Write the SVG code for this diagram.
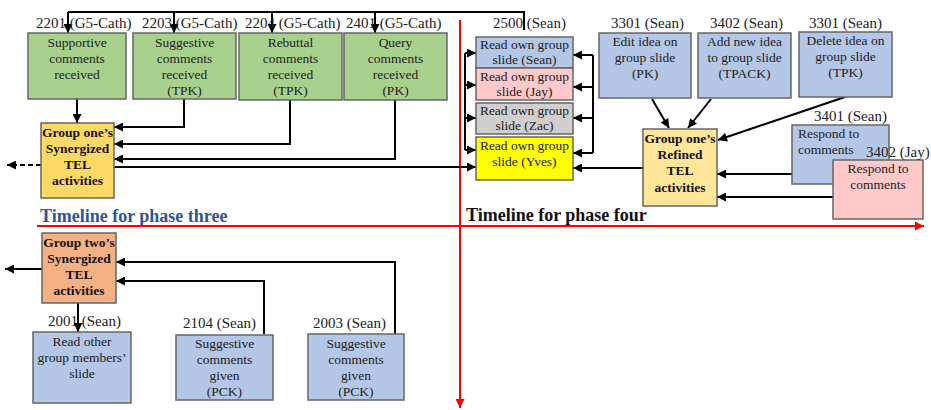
<svg xmlns="http://www.w3.org/2000/svg" width="931" height="410" viewBox="0 0 931 410">
  <style>
    text { font-family: "Liberation Serif", "Times New Roman", serif; fill: #222; }
    .lbl { font-size: 15px; }
    .bx { font-size: 13.5px; text-anchor: middle; }
    .bxl { font-size: 13.5px; }
    .hub { font-size: 13.5px; font-weight: bold; text-anchor: middle; fill: #111; }
    .box { stroke: #666; stroke-width: 1.5; }
    .green { fill: #a9d18e; }
    .blue { fill: #b4c7e7; }
    .pink { fill: #ffc9c9; }
    .grey { fill: #d0cece; }
    .yellow { fill: #ffff00; }
    .gold { fill: #ffd966; }
    .cream { fill: #ffe699; }
    .orange { fill: #f4b183; }
    .conn { fill: none; stroke: #000; stroke-width: 2; }
    .arr { marker-end: url(#ah); }
    .red { fill: none; stroke: #ff0000; stroke-width: 2; marker-end: url(#rah); }
    .tl { font-size: 18px; font-weight: bold; }
  </style>
  <defs>
    <marker id="ah" viewBox="0 0 10 10" refX="10" refY="5" markerWidth="10" markerHeight="9" orient="auto" markerUnits="userSpaceOnUse">
      <path d="M0,0 L10,5 L0,10 z" fill="#000"/>
    </marker>
    <marker id="rah" viewBox="0 0 10 10" refX="10" refY="5" markerWidth="11" markerHeight="9" orient="auto" markerUnits="userSpaceOnUse">
      <path d="M0,0 L10,5 L0,10 z" fill="#ff0000"/>
    </marker>
  </defs>

  <!-- timelines -->
  <g id="timelines">
    <line class="red" x1="460" y1="20" x2="460" y2="408"/>
    <line class="red" x1="37" y1="226" x2="924" y2="226"/>
    <text class="tl" x="40" y="222" style="fill:#2e5597">Timeline for phase three</text>
    <text class="tl" x="466" y="221" style="fill:#111">Timeline for phase four</text>
  </g>

  <!-- connectors -->
  <g id="connectors">
    <!-- distribution line along the top -->
    <path class="conn" d="M524,30 V12 H68"/>
    <line class="conn arr" x1="68" y1="12" x2="68" y2="33"/>
    <line class="conn arr" x1="174" y1="12" x2="174" y2="33"/>
    <line class="conn arr" x1="272" y1="12" x2="272" y2="33"/>
    <line class="conn arr" x1="375" y1="12" x2="375" y2="33"/>

    <!-- comments received into group one's synergized activities -->
    <line class="conn arr" x1="77" y1="99" x2="77" y2="123"/>
    <path class="conn arr" d="M184,99 V127 H114"/>
    <path class="conn arr" d="M290,100 V144 H114"/>
    <path class="conn arr" d="M395,100 V159 H114"/>
    <line class="conn" x1="41" y1="165" x2="7" y2="165" stroke-dasharray="5,3" marker-end="url(#ah)"/>
    <line class="conn arr" x1="114" y1="167" x2="476" y2="167"/>

    <!-- brackets around the read-own-slide boxes -->
    <line class="conn" x1="465" y1="53" x2="465" y2="150"/>
    <line class="conn arr" x1="465" y1="53" x2="476" y2="53"/>
    <line class="conn arr" x1="465" y1="85" x2="476" y2="85"/>
    <line class="conn arr" x1="465" y1="118" x2="476" y2="118"/>
    <line class="conn arr" x1="465" y1="150" x2="476" y2="150"/>
    <line class="conn" x1="593" y1="55" x2="593" y2="153"/>
    <line class="conn arr" x1="593" y1="55" x2="573" y2="55"/>
    <line class="conn arr" x1="593" y1="87" x2="573" y2="87"/>
    <line class="conn arr" x1="593" y1="118" x2="573" y2="118"/>
    <line class="conn arr" x1="593" y1="153" x2="573" y2="153"/>
    <line class="conn arr" x1="643" y1="168" x2="573" y2="168"/>

    <!-- edits into group one's refined activities -->
    <line class="conn arr" x1="652" y1="99" x2="669" y2="128"/>
    <line class="conn arr" x1="711" y1="99" x2="688" y2="128"/>
    <line class="conn arr" x1="845" y1="97" x2="718" y2="140"/>
    <line class="conn arr" x1="792" y1="174" x2="717" y2="174"/>
    <line class="conn arr" x1="833" y1="197" x2="717" y2="197"/>

    <!-- group two -->
    <line class="conn arr" x1="42" y1="269" x2="5" y2="269"/>
    <line class="conn arr" x1="78" y1="303" x2="78" y2="332"/>
    <path class="conn arr" d="M395,337 V262 H116"/>
    <path class="conn arr" d="M264,334 V281 H116"/>
  </g>

  <!-- phase three: comments received -->
  <g id="n2201">
    <text class="lbl" x="36" y="28">2201 (G5-Cath)</text>
    <rect class="box green" x="28" y="33" width="98" height="66"/>
    <text class="bx" x="77" y="47">Supportive</text>
    <text class="bx" x="77" y="63">comments</text>
    <text class="bx" x="77" y="79">received</text>
  </g>
  <g id="n2203">
    <text class="lbl" x="142" y="28">2203 (G5-Cath)</text>
    <rect class="box green" x="133" y="33" width="103" height="66"/>
    <text class="bx" x="184.5" y="47">Suggestive</text>
    <text class="bx" x="184.5" y="63">comments</text>
    <text class="bx" x="184.5" y="79">received</text>
    <text class="bx" x="184.5" y="95">(TPK)</text>
  </g>
  <g id="n2204">
    <text class="lbl" x="245" y="28">2204 (G5-Cath)</text>
    <rect class="box green" x="239" y="33" width="103" height="67"/>
    <text class="bx" x="290.5" y="47">Rebuttal</text>
    <text class="bx" x="290.5" y="63">comments</text>
    <text class="bx" x="290.5" y="79">received</text>
    <text class="bx" x="290.5" y="95">(TPK)</text>
  </g>
  <g id="n2401">
    <text class="lbl" x="346" y="28">2401 (G5-Cath)</text>
    <rect class="box green" x="344" y="33" width="103" height="67"/>
    <text class="bx" x="395.5" y="47">Query</text>
    <text class="bx" x="395.5" y="63">comments</text>
    <text class="bx" x="395.5" y="79">received</text>
    <text class="bx" x="395.5" y="95">(PK)</text>
  </g>

  <g id="group-one-synergized">
    <rect class="box gold" x="41" y="123" width="73" height="75"/>
    <text class="hub" x="77.5" y="137">Group one’s</text>
    <text class="hub" x="77.5" y="153">Synergized</text>
    <text class="hub" x="77.5" y="169">TEL</text>
    <text class="hub" x="77.5" y="185">activities</text>
  </g>

  <!-- phase four: reading own group slide -->
  <g id="n2500">
    <text class="lbl" x="493" y="28">2500 (Sean)</text>
  </g>
  <g id="read-sean">
    <rect class="box blue" x="476" y="37" width="97" height="31"/>
    <text class="bx" x="524.5" y="49">Read own group</text>
    <text class="bx" x="524.5" y="64">slide (Sean)</text>
  </g>
  <g id="read-jay">
    <rect class="box pink" x="476" y="68" width="97" height="32"/>
    <text class="bx" x="524.5" y="81">Read own group</text>
    <text class="bx" x="524.5" y="96">slide (Jay)</text>
  </g>
  <g id="read-zac">
    <rect class="box grey" x="476" y="103" width="97" height="31"/>
    <text class="bx" x="524.5" y="115">Read own group</text>
    <text class="bx" x="524.5" y="130">slide (Zac)</text>
  </g>
  <g id="read-yves">
    <rect class="box yellow" x="476" y="137" width="97" height="43"/>
    <text class="bx" x="524.5" y="150">Read own group</text>
    <text class="bx" x="524.5" y="166">slide (Yves)</text>
  </g>

  <g id="n3301-edit">
    <text class="lbl" x="611" y="28">3301 (Sean)</text>
    <rect class="box blue" x="599" y="33" width="92" height="65"/>
    <text class="bx" x="645" y="46">Edit idea on</text>
    <text class="bx" x="645" y="62">group slide</text>
    <text class="bx" x="645" y="78">(PK)</text>
  </g>
  <g id="n3402-add">
    <text class="lbl" x="710" y="28">3402 (Sean)</text>
    <rect class="box blue" x="698" y="33" width="93" height="65"/>
    <text class="bx" x="744.5" y="46">Add new idea</text>
    <text class="bx" x="744.5" y="62">to group slide</text>
    <text class="bx" x="744.5" y="78">(TPACK)</text>
  </g>
  <g id="n3301-delete">
    <text class="lbl" x="809" y="28">3301 (Sean)</text>
    <rect class="box blue" x="799" y="32" width="93" height="65"/>
    <text class="bx" x="845.5" y="45">Delete idea on</text>
    <text class="bx" x="845.5" y="61">group slide</text>
    <text class="bx" x="845.5" y="77">(TPK)</text>
  </g>

  <g id="group-one-refined">
    <rect class="box cream" x="643" y="129" width="74" height="77"/>
    <text class="hub" x="680" y="143">Group one’s</text>
    <text class="hub" x="680" y="159">Refined</text>
    <text class="hub" x="680" y="175">TEL</text>
    <text class="hub" x="680" y="192">activities</text>
  </g>

  <g id="n3401-respond">
    <text class="lbl" x="814" y="121">3401 (Sean)</text>
    <rect class="box blue" x="792" y="125" width="97" height="59"/>
    <text class="bxl" x="798" y="138">Respond to</text>
    <text class="bxl" x="798" y="154">comments</text>
  </g>
  <g id="n3402-respond">
    <rect class="box pink" x="833" y="160" width="90" height="59"/>
    <text class="lbl" x="866" y="157">3402 (Jay)</text>
    <text class="bx" x="878" y="173">Respond to</text>
    <text class="bx" x="878" y="189">comments</text>
  </g>

  <!-- phase three: group two -->
  <g id="group-two-synergized">
    <rect class="box orange" x="42" y="233" width="74" height="70"/>
    <text class="hub" x="79" y="247">Group two’s</text>
    <text class="hub" x="79" y="263">Synergized</text>
    <text class="hub" x="79" y="279">TEL</text>
    <text class="hub" x="79" y="295">activities</text>
  </g>
  <g id="n2001">
    <text class="lbl" x="48" y="326">2001 (Sean)</text>
    <rect class="box blue" x="33" y="332" width="98" height="71"/>
    <text class="bx" x="82" y="346">Read other</text>
    <text class="bx" x="82" y="362">group members’</text>
    <text class="bx" x="82" y="378">slide</text>
  </g>
  <g id="n2104">
    <text class="lbl" x="183" y="328">2104 (Sean)</text>
    <rect class="box blue" x="176" y="335" width="97" height="65"/>
    <text class="bx" x="224.5" y="348">Suggestive</text>
    <text class="bx" x="224.5" y="364">comments</text>
    <text class="bx" x="224.5" y="380">given</text>
    <text class="bx" x="224.5" y="396">(PCK)</text>
  </g>
  <g id="n2003">
    <text class="lbl" x="313" y="328">2003 (Sean)</text>
    <rect class="box blue" x="308" y="334" width="96" height="66"/>
    <text class="bx" x="356" y="348">Suggestive</text>
    <text class="bx" x="356" y="364">comments</text>
    <text class="bx" x="356" y="380">given</text>
    <text class="bx" x="356" y="396">(PCK)</text>
  </g>
</svg>
